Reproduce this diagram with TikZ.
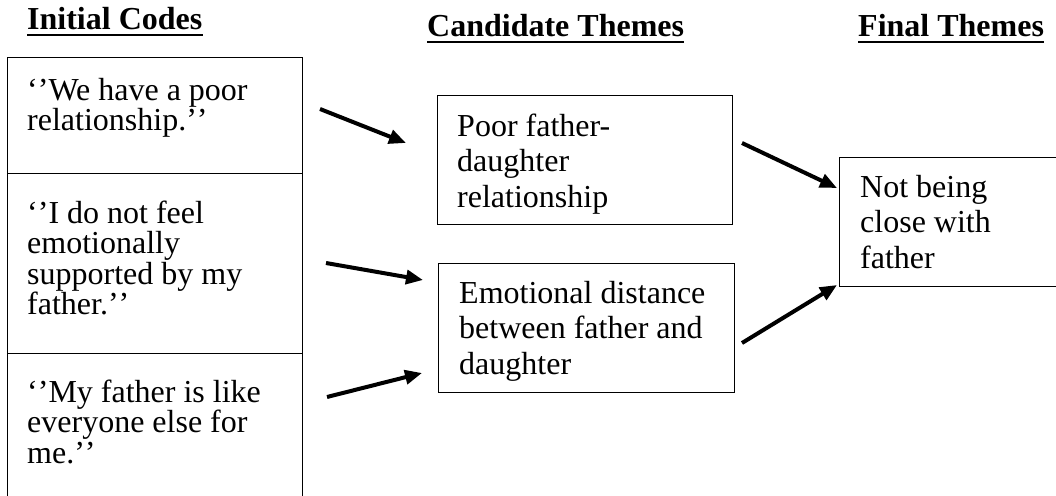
\documentclass[tikz,border=0pt]{standalone}
\usepackage{fontspec}
\setmainfont{Liberation Serif}
\usetikzlibrary{arrows.meta}
\newcommand{\oq}{‘\kern0pt’}
\newcommand{\cq}{’\kern0pt’}
\begin{document}
\begin{tikzpicture}[x=1pt,y=-1pt,
  cell/.style={draw, line width=1.3pt, anchor=north west, inner sep=0pt},
  codetxt/.style={anchor=base west, inner sep=0pt, align=left, font=\fontsize{32}{30.5}\selectfont},
  themetxt/.style={anchor=base west, inner sep=0pt, align=left, font=\fontsize{32}{35.5}\selectfont},
  head/.style={anchor=base west, inner sep=0pt, font=\fontsize{32}{36}\selectfont\bfseries},
  uline/.style={line width=2.6pt},
  arr/.style={line width=4pt, -{Triangle[length=17pt,width=14pt]}}]
\useasboundingbox (0,0) rectangle (1056,495);
\clip (0,0) rectangle (1056,495);
% headers
\node[head] (ic) at (27,30) {Initial Codes};
\node[head] (ct) at (427,37) {Candidate Themes};
\node[head] (ft) at (858,37) {Final Themes};
\draw[uline] ([yshift=-5pt]ic.base west) -- ([yshift=-5pt]ic.base east);
\draw[uline] ([yshift=-5pt]ct.base west) -- ([yshift=-5pt]ct.base east);
\draw[uline] ([yshift=-5pt]ft.base west) -- ([yshift=-5pt]ft.base east);
% left column cells
\node[cell, minimum width=295pt, minimum height=116pt] (c1) at (7,57) {};
\node[cell, minimum width=295pt, minimum height=180pt] (c2) at (7,173) {};
\node[cell, minimum width=295pt, minimum height=180pt] (c3) at (7,353) {};
% (base anchor = baseline of the last line)
\node[codetxt] (t1) at (27,130.5) {\oq We have a poor\\relationship.\cq};
\node[codetxt] (t2) at (27,314.5) {\oq I do not feel\\emotionally\\supported by my\\father.\cq};
\node[codetxt] (t3) at (27,463) {\oq My father is like\\everyone else for\\me.\cq};
% candidate themes
\node[cell, minimum width=295pt, minimum height=129pt] (k1) at (437,95) {};
\node[themetxt] (kt1) at (457,207) {Poor father-\\daughter\\relationship};
\node[cell, minimum width=296pt, minimum height=129pt] (k2) at (438,263) {};
\node[themetxt] (kt2) at (459,374) {Emotional distance\\between father and\\daughter};
% final theme
\node[cell, minimum width=240pt, minimum height=129pt] (f1) at (839,157) {};
\node[themetxt] (ftx) at (860,268) {Not being\\close with\\father};
% arrows
\coordinate (a1s) at (320,109); \coordinate (a1e) at (406,143);
\coordinate (a2s) at (326,263); \coordinate (a2e) at (423,280);
\coordinate (a3s) at (327,397); \coordinate (a3e) at (422,373);
\coordinate (a4s) at (742,143); \coordinate (a4e) at (837,188);
\coordinate (a5s) at (742,343); \coordinate (a5e) at (837,285);
\draw[arr] (a1s) -- (a1e);
\draw[arr] (a2s) -- (a2e);
\draw[arr] (a3s) -- (a3e);
\draw[arr] (a4s) -- (a4e);
\draw[arr] (a5s) -- (a5e);
\end{tikzpicture}
\end{document}
